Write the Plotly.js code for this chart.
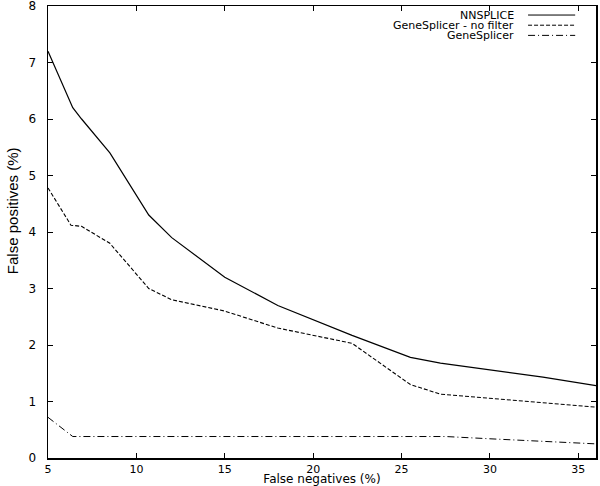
<!DOCTYPE html>
<html><head><meta charset="utf-8">
<script src="https://cdn.plot.ly/plotly-3.0.1.min.js"></script>
<style>html,body{margin:0;padding:0;background:#fff}#chart{width:600px;height:486px}</style>
</head><body><div id="chart"></div>
<script>
const seriesNames = ["NNSPLICE", "GeneSplicer - no filter", "GeneSplicer"];
const nnspliceX = [5, 6.4, 6.9, 8.5, 10.7, 12, 15, 18, 22.2, 25.5, 27.2, 33, 36];
const nnspliceY = [7.2, 6.2, 6.0, 5.4, 4.3, 3.9, 3.2, 2.7, 2.17, 1.78, 1.68, 1.43, 1.28];
const noFilterX = [5, 6.3, 6.9, 8.5, 10.7, 12, 15, 18, 22.2, 25.5, 27.2, 36];
const noFilterY = [4.78, 4.12, 4.1, 3.8, 3.0, 2.8, 2.6, 2.3, 2.03, 1.3, 1.13, 0.9];
const genespX = [5, 6.4, 10, 15, 20, 25, 27.5, 30, 36];
const genespY = [0.72, 0.38, 0.38, 0.38, 0.38, 0.38, 0.38, 0.34, 0.25];
const xTicks = [5, 10, 15, 20, 25, 30, 35];
const yTicks = [0, 1, 2, 3, 4, 5, 6, 7, 8];
const dashes = ["solid", "4px,2px", "7px,3px,1px,3px"];

const font = "DejaVu Sans, Verdana, sans-serif";
const narrow = "Liberation Sans Narrow, Arial Narrow, sans-serif";
const traces = [
  {x: nnspliceX, y: nnspliceY, name: seriesNames[0], mode: "lines", line: {color: "#000", width: 1.2, dash: dashes[0]}},
  {x: noFilterX, y: noFilterY, name: seriesNames[1], mode: "lines", line: {color: "#000", width: 1.1, dash: dashes[1]}},
  {x: genespX, y: genespY, name: seriesNames[2], mode: "lines", line: {color: "#000", width: 1, dash: dashes[2]}}
];

const annotations = [];
const shapes = [];
seriesNames.forEach((n, i) => {
  const yp = 0.98 - i * 0.0225;
  annotations.push({xref: "paper", yref: "paper", x: 0.854, y: yp, text: n, showarrow: false,
    xanchor: "right", yanchor: "middle", font: {family: font, size: 11, color: "#000"}});
  shapes.push({type: "line", xref: "paper", yref: "paper", x0: 0.876, x1: 0.962, y0: yp, y1: yp,
    line: {color: "#000", width: 1, dash: dashes[i]}});
});
annotations.push({xref: "paper", yref: "paper", x: -0.066, y: 0.548, text: "False positives (%)", showarrow: false,
  textangle: -90, xanchor: "center", yanchor: "middle", font: {family: narrow, size: 15, color: "#000"}});

const layout = {
  width: 600, height: 486,
  margin: {l: 48, r: 4, t: 6, b: 28},
  paper_bgcolor: "#fff", plot_bgcolor: "#fff",
  showlegend: false,
  font: {family: font, size: 12, color: "#000"},
  xaxis: {range: [5, 36], tickvals: xTicks, ticks: "inside", ticklen: 5, tickwidth: 1, tickcolor: "#000",
    showline: true, linecolor: "#000", linewidth: 1.5, mirror: "ticks", showgrid: false, zeroline: false,
    tickfont: {family: font, size: 11}, ticklabelstandoff: 0, ticklabeloverflow: "allow",
    title: {text: "False negatives (%)", standoff: 1, font: {family: font, size: 12}}},
  yaxis: {range: [0, 8], tickvals: yTicks, ticks: "inside", ticklen: 5, tickwidth: 1, tickcolor: "#000",
    showline: true, linecolor: "#000", linewidth: 1.5, mirror: "ticks", showgrid: false, zeroline: false,
    tickfont: {family: font, size: 12}, ticklabelstandoff: 8, ticklabeloverflow: "allow"},
  annotations: annotations,
  shapes: shapes
};
Plotly.newPlot("chart", traces, layout, {displayModeBar: false, staticPlot: true});
</script></body></html>
